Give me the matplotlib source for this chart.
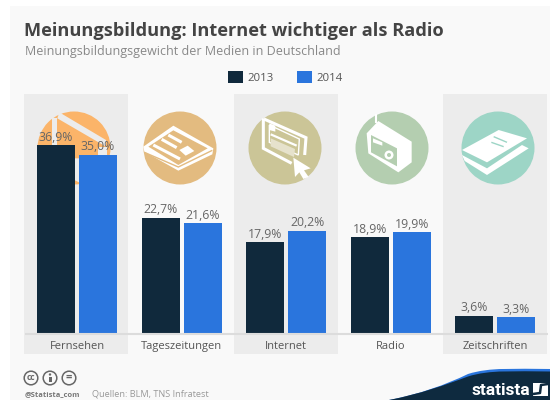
import matplotlib
matplotlib.use("Agg")
import matplotlib.pyplot as plt
from matplotlib.patches import Circle, Polygon, Rectangle, PathPatch
from matplotlib.path import Path
import numpy as np

plt.rcParams["font.family"] = ["Open Sans", "DejaVu Sans"]

categories = ["Fernsehen", "Tageszeitungen", "Internet", "Radio", "Zeitschriften"]
years = ["2013", "2014"]
values_2013 = [36.9, 22.7, 17.9, 18.9, 3.6]
values_2014 = [35.0, 21.6, 20.2, 19.9, 3.3]
year_colors = ["#10293c", "#2a75dd"]
icon_colors = ["#fbb469", "#e3bb80", "#cbc597", "#b4ceb0", "#9dd5c6"]
icon_centers = [74, 180, 285, 392, 498]

W, H = 550, 400
fig = plt.figure(figsize=(W / 100, H / 100), dpi=100, facecolor="white")

# hintergrund in pixelkoordinaten
bg = fig.add_axes([0, 0, 1, 1], zorder=0)
bg.set_xlim(0, W)
bg.set_ylim(H, 0)
bg.axis("off")
bg.add_patch(Rectangle((10, 6), 540, 394, fc="#f9f9f9", ec="none"))
for x0, x1 in [(24, 128), (234, 338), (443, 547)]:
    bg.add_patch(Rectangle((x0, 94), x1 - x0, 260, fc="#ececec", ec="none"))


def shape(origin, pts, color="white", z=3):
    # punkte aus den 3x-ausschnitten
    xy = [(origin[0] + x / 3, origin[1] + y / 3) for x, y in pts]
    bg.add_patch(Polygon(xy, closed=True, fc=color, ec="none", zorder=z))


def stroke(origin, pts, lw=2.0, color="white", z=4):
    xs = [origin[0] + x / 3 for x, y in pts]
    ys = [origin[1] + y / 3 for x, y in pts]
    bg.plot(xs, ys, color=color, lw=lw, solid_capstyle="butt", solid_joinstyle="miter", zorder=z)


for cx, col in zip(icon_centers, icon_colors):
    bg.add_patch(Circle((cx, 148), 36.5, fc=col, ec="none", zorder=2))

# fernseher
o = (30, 105)
shape(o, [(88, 22), (228, 105), (228, 125), (82, 40)], "#ececec")
shape(o, [(67, 38), (80, 38), (80, 125), (67, 125)], "#ececec")
shape(o, [(133, 160), (147, 160), (147, 232), (133, 225)], "#ececec")
shape(o, [(205, 125), (232, 125), (232, 150), (205, 150)], "#ececec")

# zeitung
o = (135, 105)
c = icon_colors[1]
shape(o, [(25, 125), (115, 62), (235, 130), (232, 148), (130, 197), (28, 140)])
shape(o, [(40, 125), (115, 76), (218, 130), (130, 180)], c)
stroke(o, [(28, 142), (130, 186), (232, 136)], lw=1.0, color=c)
stroke(o, [(55, 120), (135, 162)], lw=2.2)
stroke(o, [(80, 103), (125, 128)], lw=2.2)
stroke(o, [(100, 90), (140, 112)], lw=2.2)
shape(o, [(133, 135), (158, 122), (178, 138), (152, 152)], z=4)

# internet
o = (240, 105)
stroke(o, [(72, 42), (198, 98), (194, 150)], lw=2.2)
stroke(o, [(70, 40), (70, 130), (155, 175)], lw=2.2)
stroke(o, [(88, 60), (178, 102), (175, 150), (88, 112), (88, 60)], lw=1.0)
shape(o, [(88, 55), (106, 62), (106, 80), (88, 75)], z=4)
stroke(o, [(92, 88), (170, 122)], lw=1.6)
shape(o, [(92, 100), (165, 132), (162, 156), (92, 124)], "#e6e2cc", z=4)
shape(o, [(160, 158), (212, 190), (192, 196), (206, 216), (190, 222), (178, 202), (165, 216)], z=5)

# radio
o = (345, 105)
c = icon_colors[3]
shape(o, [(100, 48), (200, 110), (200, 172), (160, 202), (70, 145), (65, 85)])
shape(o, [(78, 90), (156, 130), (156, 184), (78, 142)], c, z=4)
shape(o, [(84, 100), (112, 112), (112, 122), (84, 112)], z=5)
bg.add_patch(Circle((345 + 132 / 3, 105 + 150 / 3), 4.5, fc="white", ec="none", zorder=5))
bg.add_patch(Circle((345 + 132 / 3, 105 + 150 / 3), 2, fc=c, ec="none", zorder=6))
stroke(o, [(92, 28), (92, 55)], lw=1.5)

# zeitschrift
o = (452, 105)
c = icon_colors[4]
shape(o, [(30, 135), (140, 75), (225, 100), (105, 172)])
shape(o, [(30, 150), (105, 190), (210, 120), (230, 130), (105, 210), (38, 168)])
stroke(o, [(125, 95), (165, 112)], lw=1.0, color=c)
stroke(o, [(118, 112), (155, 125)], lw=1.0, color=c)

# balken, achse geht von y=94 bis y=354, null liegt bei y=334
ax = fig.add_axes([24.7 / W, 1 - 354 / H, 523 / W, 260 / H], zorder=1)
ax.patch.set_alpha(0)
px_per_unit = 5.12
ax.set_xlim(-0.5, 4.5)
ax.set_ylim(-20 / px_per_unit, 240 / px_per_unit)
x = np.arange(len(categories))
bar_w = 0.363
b1 = ax.bar(x - 0.2, values_2013, bar_w, color=year_colors[0], label=years[0])
b2 = ax.bar(x + 0.2, values_2014, bar_w, color=year_colors[1], label=years[1])
for bars, vals in [(b1, values_2013), (b2, values_2014)]:
    ax.bar_label(bars, labels=[f"{v:.1f}%".replace(".", ",") for v in vals],
                 padding=1, fontsize=8.8, color="#666666")
ax.axhline(0, color="#dcdcdc", lw=1.5, zorder=1)
ax.set_xticks(x, categories)
ax.tick_params(axis="x", length=0, labelsize=8.0, labelcolor="#555555")
ax.set_yticks([])
for s in ax.spines.values():
    s.set_visible(False)
for lab in ax.get_xticklabels():
    lab.set_y(12.7 / 260)
    lab.set_verticalalignment("center")

fig.legend(handles=[b1, b2], labels=years, ncols=2, frameon=False, fontsize=8.2,
           loc="center", bbox_to_anchor=(285.5 / W, 1 - 77.5 / H), handlelength=1.3,
           handleheight=1.3, handletextpad=0.45, columnspacing=2.0, labelcolor="#555555")

# titel
fig.text(24 / W, 1 - 36.5 / H, "Meinungsbildung: Internet wichtiger als Radio", fontsize=13.12,
         fontweight="bold", color="#444444", va="baseline")
fig.text(25 / W, 1 - 54.5 / H, "Meinungsbildungsgewicht der Medien in Deutschland", fontsize=9.0,
         color="#888888", va="baseline")

# fuss
for cx, s in zip([31, 50, 69], ["cc", "", "="]):
    bg.add_patch(Circle((cx, 378), 6.8, fc="none", ec="#666666", lw=1.1, zorder=3))
    if s:
        bg.text(cx, 377.7, s, fontsize=6 if s == "cc" else 8, fontweight="bold", color="#666666",
                ha="center", va="center")
bg.add_patch(Circle((50, 374.5), 1.2, fc="#666666", ec="none", zorder=3))
bg.add_patch(Rectangle((48.5, 376.5), 3, 5.5, fc="#666666", ec="none", zorder=3))
bg.text(25, 396.5, "@Statista_com", fontsize=5.4, fontweight="bold", color="#777777", va="baseline")
bg.text(92, 396, "Quellen: BLM, TNS Infratest", fontsize=6.6, color="#999999", va="baseline")


# logo
def logo(dy, color, z):
    verts = [(389, 400), (420, 394), (445, 385), (468, 374 + dy), (490, 367 + dy), (515, 369 + dy),
             (550, 369 + dy), (550, 400), (389, 400)]
    codes = [Path.MOVETO, Path.CURVE4, Path.CURVE4, Path.CURVE4, Path.CURVE4, Path.CURVE4,
             Path.LINETO, Path.LINETO, Path.CLOSEPOLY]
    bg.add_patch(PathPatch(Path(verts, codes), fc=color, ec="none", zorder=z))


logo(0, "#2a75dd", 3)
logo(2.5, "#0e2a3f", 4)
bg.text(471, 395, "statista", fontsize=12.5, fontweight="bold", color="white", va="baseline", zorder=5,
        family=["Roboto", "DejaVu Sans"])
bg.add_patch(Rectangle((533, 383), 15, 12.5, fc="white", ec="none", zorder=5))
bg.plot([533, 540, 541, 548], [394, 393, 385, 384], color="#0e2a3f", lw=1.8, zorder=6)

fig.savefig("out.png", dpi=100)
